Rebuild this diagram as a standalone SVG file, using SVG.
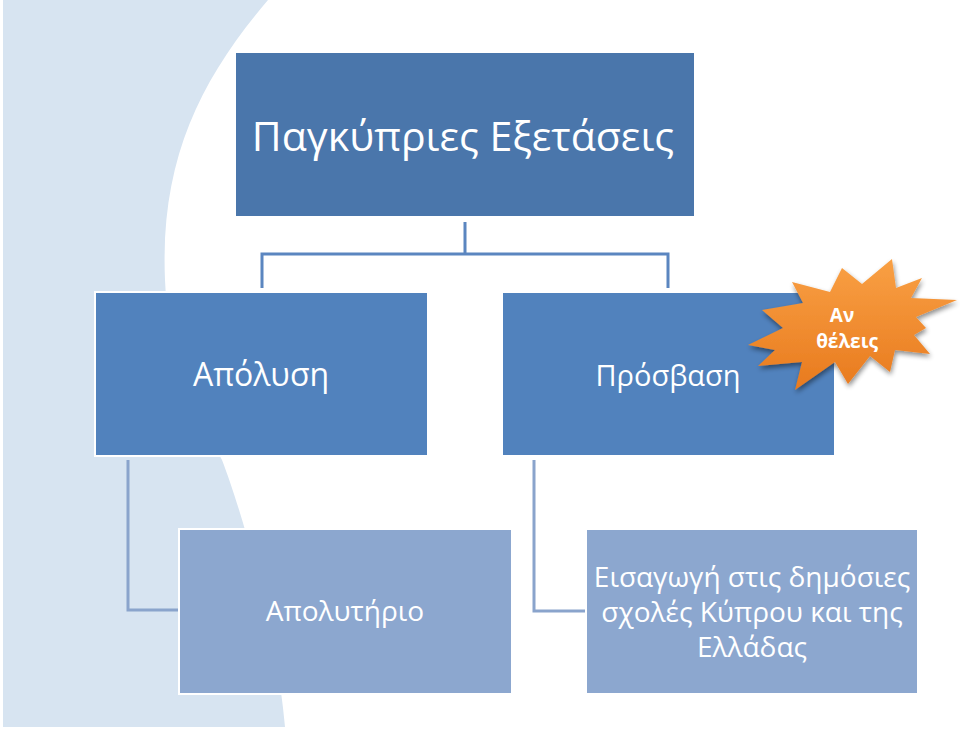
<svg xmlns="http://www.w3.org/2000/svg" width="960" height="732" viewBox="0 0 960 732">
<defs>
<style>
.bx{stroke:#ffffff;stroke-width:2}
.l1{fill:#4a76ab}
.l2{fill:#5182bd}
.l3{fill:#8ca7cf}
.t{font-family:"Open Sans","Noto Sans","DejaVu Sans",sans-serif;fill:#ffffff;text-anchor:middle}
.c1{fill:none;stroke:#5b86c0;stroke-width:3}
.c2{fill:none;stroke:#8aa4cc;stroke-width:3}
</style>
<linearGradient id="og" x1="0" y1="0" x2="0" y2="1">
<stop offset="0" stop-color="#f9a044"/>
<stop offset="1" stop-color="#e87a1e"/>
</linearGradient>
<filter id="sh" x="-20%" y="-20%" width="140%" height="150%">
<feGaussianBlur in="SourceAlpha" stdDeviation="2.5"/>
<feOffset dx="1" dy="3" result="b"/>
<feComponentTransfer><feFuncA type="linear" slope="0.45"/></feComponentTransfer>
<feMerge><feMergeNode/><feMergeNode in="SourceGraphic"/></feMerge>
</filter>
</defs>
<rect width="960" height="732" fill="#ffffff"/>
<path d="M3,0 L268,0 C200,80 160,160 165,280 C168,360 195,410 222,460 C245,520 278,640 285,727 L3,727 Z" fill="#d7e4f1"/>
<g id="connectors">
<path class="c1" d="M465,222 V254 M262,288 V254 H668 V288"/>
<path class="c2" d="M128,460 V610 H180"/>
<path class="c2" d="M534,460 V611 H586"/>
</g>
<g id="n1">
<rect class="bx l1" x="235" y="52" width="460" height="165"/>
<text class="t" x="463" y="151" font-size="41">Παγκύπριες Εξετάσεις</text>
</g>
<g id="n2">
<rect class="bx l2" x="95" y="292" width="333" height="164"/>
<text class="t" x="261" y="386" font-size="32">Απόλυση</text>
</g>
<g id="n3">
<rect class="bx l2" x="502" y="292" width="333" height="164"/>
<text class="t" x="668" y="386" font-size="29">Πρόσβαση</text>
</g>
<g id="n4">
<rect class="bx l3" x="179" y="529" width="333" height="165"/>
<text class="t" x="345" y="621" font-size="28">Απολυτήριο</text>
</g>
<g id="n5">
<rect class="bx l3" x="586" y="529" width="332" height="165"/>
<text class="t" x="752" font-size="28"><tspan x="752" y="587">Εισαγωγή στις δημόσιες</tspan><tspan x="752" y="622">σχολές Κύπρου και της</tspan><tspan x="752" y="657">Ελλάδας</tspan></text>
</g>
<g id="n6">
<polygon filter="url(#sh)" fill="url(#og)" points="892,259 896,288 922,278 911,298 957,300 916,317 926,328 914,335 930,354 895,350 890,372 870,356 848,384 835,362 795,390 802,362 758,366 775,350 748,345 783,328 762,310 803,303 792,282 830,292 842,268 862,284"/>
<text class="t" font-size="19" font-weight="bold"><tspan x="842" y="322">Αν</tspan><tspan x="847" y="348">θέλεις</tspan></text>
</g>
</svg>
